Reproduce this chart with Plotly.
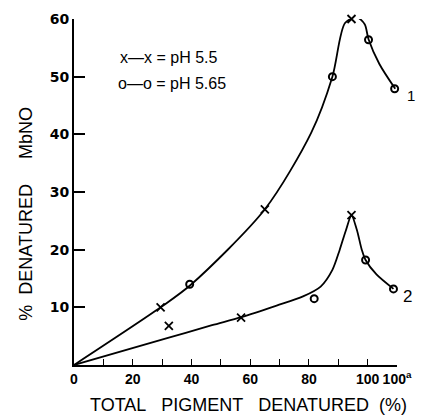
import plotly.graph_objects as go

# ---- data ----
# Smooth hand-drawn curves (traced points along each drawn line)
curve1_x = [0, 29.5, 40, 65, 80.8, 88, 92.3, 96.3, 99, 100.3, 104, 109.4]
curve1_y = [0, 10, 14, 27, 40.3, 50, 59.3, 60.3, 59.1, 56.5, 52.2, 47.9]
curve2_x = [0, 32, 47, 57, 69, 78, 84, 88, 90.5, 92.5, 94.5, 96.3, 98, 99.3, 103, 108.8]
curve2_y = [0, 4.7, 6.9, 8.3, 10.3, 11.9, 13.6, 16.5, 20, 23.2, 25.9, 23.5, 20, 18.2, 15.7, 13.2]

# Measured points
ph55_x = [29.5, 65, 94.5, 32.3, 56.9, 94.5]
ph55_y = [10, 27, 60, 6.8, 8.2, 26]
ph565_x = [39.4, 88, 100.3, 109.2, 81.8, 99.3, 108.8]
ph565_y = [14, 50, 56.4, 47.9, 11.5, 18.2, 13.2]

x_tickvals = [0, 20, 40, 60, 80, 100, 110]
x_ticktext = ["0", "20", "40", "60", "80", "100", "100<sup>a</sup>"]
x_minor_tickvals = [10, 30, 50, 70, 90]
y_tickvals = [10, 20, 30, 40, 50, 60]
y_ticktext = ["10", "20", "30", "40", "50", "60"]

FONT = "Liberation Sans"
NB = "\u00a0"
fig = go.Figure()
for cx, cy in [(curve1_x, curve1_y), (curve2_x, curve2_y)]:
    fig.add_trace(go.Scatter(x=cx, y=cy, mode="lines", cliponaxis=False,
                             line=dict(color="black", width=1.8, shape="spline", smoothing=0.8),
                             hoverinfo="skip", showlegend=False))
fig.add_trace(go.Scatter(x=ph55_x, y=ph55_y, mode="markers", name="pH 5.5", cliponaxis=False,
                         marker=dict(symbol="x-thin-open", size=8, color="black",
                                     line=dict(color="black", width=1.8)),
                         showlegend=False))
fig.add_trace(go.Scatter(x=ph565_x, y=ph565_y, mode="markers", name="pH 5.65", cliponaxis=False,
                         marker=dict(symbol="circle-open", size=7, color="black",
                                     line=dict(color="black", width=2)),
                         showlegend=False))

fig.update_layout(
    width=428, height=416,
    margin=dict(l=74, r=31, t=19, b=51, autoexpand=False),
    paper_bgcolor="white", plot_bgcolor="white",
    showlegend=False,
    font=dict(family=FONT, color="black"),
    xaxis=dict(range=[0, 110], tickmode="array", tickvals=x_tickvals, ticktext=x_ticktext,
               automargin=False, tickangle=0,
               ticks="inside", ticklen=6, tickwidth=1.2, tickcolor="black",
               minor=dict(tickmode="array", tickvals=x_minor_tickvals, ticks="inside",
                          ticklen=6, tickwidth=1.2, tickcolor="black", showgrid=False),
               showline=True, linecolor="black", linewidth=2, showgrid=False,
               zeroline=False,
               tickfont=dict(size=14, family=FONT, weight="bold", color="black")),
    yaxis=dict(range=[0, 60], tickmode="array", tickvals=y_tickvals, ticktext=y_ticktext,
               automargin=False,
               ticks="inside", ticklen=11, tickwidth=2, tickcolor="black",
               showline=True, linecolor="black", linewidth=2, showgrid=False,
               zeroline=False,
               tickfont=dict(size=14, family="DejaVu Sans", weight="bold", color="black")),
)

xtitle = "TOTAL" + NB * 3 + "PIGMENT" + NB * 3 + "DENATURED" + NB * 2 + "(%)"
ytitle = "%" + NB * 2 + "DENATURED" + NB * 5 + "MbNO"
annots = [
    dict(text=xtitle, x=0.540, y=-0.1156, xref="paper", yref="paper",
         showarrow=False, font=dict(size=18, family=FONT), xanchor="center", yanchor="middle"),
    dict(text=ytitle, x=-0.149, y=0.437, xref="paper", yref="paper",
         textangle=-90, showarrow=False, font=dict(size=18, family=FONT),
         xanchor="center", yanchor="middle"),
    dict(text="x—x = pH 5.5", x=0.135, y=0.890, xref="paper", yref="paper", showarrow=False,
         xanchor="left", yanchor="middle", font=dict(size=16, family=FONT)),
    dict(text="o—o = pH 5.65", x=0.130, y=0.815, xref="paper", yref="paper", showarrow=False,
         xanchor="left", yanchor="middle", font=dict(size=16, family=FONT)),
    dict(text="1", x=1.043, y=0.780, xref="paper", yref="paper", showarrow=False,
         xanchor="center", yanchor="middle", font=dict(size=15, family=FONT)),
    dict(text="2", x=1.034, y=0.197, xref="paper", yref="paper", showarrow=False,
         xanchor="center", yanchor="middle", font=dict(size=17, family=FONT)),
]
fig.update_layout(annotations=annots)

fig.write_html("out.html", config={"displayModeBar": False},
               post_script="document.body.style.margin='0';document.body.style.overflow='hidden';")
